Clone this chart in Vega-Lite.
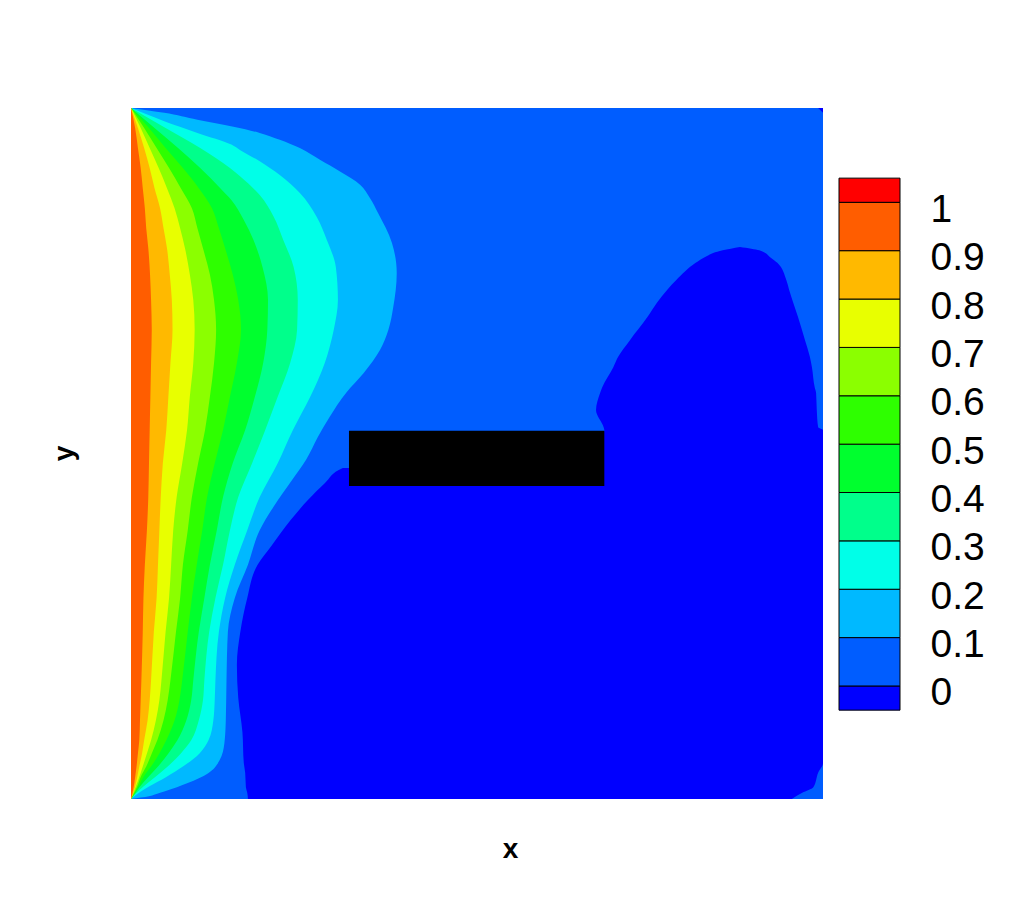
{"$schema":"https://vega.github.io/schema/vega-lite/v6.json","background":"white","padding":{"left":50,"top":108,"right":0,"bottom":0},"autosize":{"type":"pad"},"config":{"view":{"stroke":null},"font":"Liberation Sans"},"spacing":15,
"datasets":{
"field":[{"band":"0","x0":0,"x1":1,"y0":0,"y1":1}],
"obstacle":[{"x0":0.315,"x1":0.684,"y0":0.453,"y1":0.533}],
"bar":[{"band":"-0.05","lo":-0.05,"hi":0},{"band":"0","lo":0,"hi":0.1},{"band":"0.1","lo":0.1,"hi":0.2},{"band":"0.2","lo":0.2,"hi":0.3},{"band":"0.3","lo":0.3,"hi":0.4},{"band":"0.4","lo":0.4,"hi":0.5},{"band":"0.5","lo":0.5,"hi":0.6},{"band":"0.6","lo":0.6,"hi":0.7},{"band":"0.7","lo":0.7,"hi":0.8},{"band":"0.8","lo":0.8,"hi":0.9},{"band":"0.9","lo":0.9,"hi":1},{"band":"1","lo":1,"hi":1.05}],
"below":[{"r":"a","y":0,"x":0.169,"x2":0.955},{"r":"a","y":0.009,"x":0.168,"x2":0.97},{"r":"a","y":0.017,"x":0.166,"x2":0.986},{"r":"a","y":0.038,"x":0.165,"x2":0.993},{"r":"a","y":0.052,"x":0.163,"x2":1},{"r":"a","y":0.097,"x":0.161,"x2":1},{"r":"a","y":0.146,"x":0.155,"x2":1},{"r":"a","y":0.194,"x":0.153,"x2":1},{"r":"a","y":0.242,"x":0.158,"x2":1},{"r":"a","y":0.291,"x":0.168,"x2":1},{"r":"a","y":0.339,"x":0.183,"x2":1},{"r":"a","y":0.365,"x":0.202,"x2":1},{"r":"a","y":0.404,"x":0.231,"x2":1},{"r":"a","y":0.433,"x":0.256,"x2":1},{"r":"a","y":0.457,"x":0.28,"x2":1},{"r":"a","y":0.479,"x":0.306,"x2":1},{"r":"a","y":0.481,"x":0.461,"x2":1},{"r":"a","y":0.533,"x":0.684,"x2":1},{"r":"a","y":0.534,"x":0.684,"x2":1},{"r":"a","y":0.538,"x":0.683,"x2":0.993},{"r":"a","y":0.563,"x":0.672,"x2":0.991},{"r":"a","y":0.588,"x":0.678,"x2":0.99},{"r":"a","y":0.596,"x":0.681,"x2":0.988},{"r":"a","y":0.625,"x":0.697,"x2":0.984},{"r":"a","y":0.64,"x":0.704,"x2":0.981},{"r":"a","y":0.664,"x":0.721,"x2":0.974},{"r":"a","y":0.697,"x":0.746,"x2":0.964},{"r":"a","y":0.718,"x":0.76,"x2":0.957},{"r":"a","y":0.737,"x":0.775,"x2":0.951},{"r":"a","y":0.751,"x":0.788,"x2":0.947},{"r":"a","y":0.776,"x":0.816,"x2":0.934},{"r":"a","y":0.783,"x":0.827,"x2":0.925},{"r":"a","y":0.794,"x":0.855,"x2":0.908},{"r":"a","y":0.799,"x":0.88,"x2":0.88},{"r":"b","y":0.993,"x":1,"x2":1},{"r":"b","y":1,"x":0.993,"x2":1}],
"contours":[
{"band":"0.1","y":0,"x":0},{"band":"0.1","y":0.002,"x":0.014},{"band":"0.1","y":0.011,"x":0.048},{"band":"0.1","y":0.023,"x":0.082},{"band":"0.1","y":0.037,"x":0.111},{"band":"0.1","y":0.056,"x":0.128},{"band":"0.1","y":0.081,"x":0.135},{"band":"0.1","y":0.114,"x":0.137},{"band":"0.1","y":0.172,"x":0.138},{"band":"0.1","y":0.242,"x":0.14},{"band":"0.1","y":0.291,"x":0.15},{"band":"0.1","y":0.339,"x":0.169},{"band":"0.1","y":0.389,"x":0.186},{"band":"0.1","y":0.423,"x":0.206},{"band":"0.1","y":0.462,"x":0.233},{"band":"0.1","y":0.491,"x":0.253},{"band":"0.1","y":0.524,"x":0.27},{"band":"0.1","y":0.553,"x":0.287},{"band":"0.1","y":0.588,"x":0.311},{"band":"0.1","y":0.616,"x":0.336},{"band":"0.1","y":0.65,"x":0.36},{"band":"0.1","y":0.679,"x":0.372},{"band":"0.1","y":0.712,"x":0.379},{"band":"0.1","y":0.761,"x":0.384},{"band":"0.1","y":0.805,"x":0.377},{"band":"0.1","y":0.848,"x":0.357},{"band":"0.1","y":0.87,"x":0.345},{"band":"0.1","y":0.889,"x":0.331},{"band":"0.1","y":0.908,"x":0.302},{"band":"0.1","y":0.925,"x":0.273},{"band":"0.1","y":0.942,"x":0.244},{"band":"0.1","y":0.954,"x":0.215},{"band":"0.1","y":0.964,"x":0.186},{"band":"0.1","y":0.973,"x":0.148},{"band":"0.1","y":0.983,"x":0.096},{"band":"0.1","y":0.993,"x":0.048},{"band":"0.1","y":1,"x":0},
{"band":"0.2","y":0,"x":0},{"band":"0.2","y":0.008,"x":0.01},{"band":"0.2","y":0.018,"x":0.026},{"band":"0.2","y":0.032,"x":0.051},{"band":"0.2","y":0.047,"x":0.075},{"band":"0.2","y":0.066,"x":0.099},{"band":"0.2","y":0.085,"x":0.112},{"band":"0.2","y":0.114,"x":0.119},{"band":"0.2","y":0.143,"x":0.121},{"band":"0.2","y":0.172,"x":0.122},{"band":"0.2","y":0.242,"x":0.127},{"band":"0.2","y":0.291,"x":0.136},{"band":"0.2","y":0.339,"x":0.15},{"band":"0.2","y":0.389,"x":0.168},{"band":"0.2","y":0.437,"x":0.186},{"band":"0.2","y":0.486,"x":0.212},{"band":"0.2","y":0.534,"x":0.234},{"band":"0.2","y":0.582,"x":0.259},{"band":"0.2","y":0.631,"x":0.28},{"band":"0.2","y":0.679,"x":0.293},{"band":"0.2","y":0.722,"x":0.299},{"band":"0.2","y":0.77,"x":0.296},{"band":"0.2","y":0.809,"x":0.283},{"band":"0.2","y":0.843,"x":0.268},{"band":"0.2","y":0.877,"x":0.244},{"band":"0.2","y":0.903,"x":0.215},{"band":"0.2","y":0.923,"x":0.186},{"band":"0.2","y":0.939,"x":0.158},{"band":"0.2","y":0.947,"x":0.145},{"band":"0.2","y":0.964,"x":0.096},{"band":"0.2","y":0.981,"x":0.048},{"band":"0.2","y":1,"x":0},
{"band":"0.3","y":0,"x":0},{"band":"0.3","y":0.008,"x":0.007},{"band":"0.3","y":0.018,"x":0.018},{"band":"0.3","y":0.032,"x":0.035},{"band":"0.3","y":0.047,"x":0.053},{"band":"0.3","y":0.066,"x":0.072},{"band":"0.3","y":0.085,"x":0.087},{"band":"0.3","y":0.114,"x":0.098},{"band":"0.3","y":0.143,"x":0.104},{"band":"0.3","y":0.172,"x":0.106},{"band":"0.3","y":0.242,"x":0.113},{"band":"0.3","y":0.291,"x":0.122},{"band":"0.3","y":0.339,"x":0.133},{"band":"0.3","y":0.389,"x":0.143},{"band":"0.3","y":0.437,"x":0.155},{"band":"0.3","y":0.486,"x":0.175},{"band":"0.3","y":0.534,"x":0.194},{"band":"0.3","y":0.582,"x":0.212},{"band":"0.3","y":0.631,"x":0.23},{"band":"0.3","y":0.679,"x":0.24},{"band":"0.3","y":0.722,"x":0.241},{"band":"0.3","y":0.77,"x":0.235},{"band":"0.3","y":0.809,"x":0.22},{"band":"0.3","y":0.843,"x":0.206},{"band":"0.3","y":0.874,"x":0.186},{"band":"0.3","y":0.901,"x":0.158},{"band":"0.3","y":0.913,"x":0.143},{"band":"0.3","y":0.942,"x":0.1},{"band":"0.3","y":0.971,"x":0.05},{"band":"0.3","y":1,"x":0},
{"band":"0.4","y":0,"x":0},{"band":"0.4","y":0.008,"x":0.006},{"band":"0.4","y":0.018,"x":0.013},{"band":"0.4","y":0.032,"x":0.025},{"band":"0.4","y":0.047,"x":0.039},{"band":"0.4","y":0.066,"x":0.054},{"band":"0.4","y":0.085,"x":0.067},{"band":"0.4","y":0.114,"x":0.08},{"band":"0.4","y":0.143,"x":0.087},{"band":"0.4","y":0.172,"x":0.09},{"band":"0.4","y":0.242,"x":0.098},{"band":"0.4","y":0.291,"x":0.106},{"band":"0.4","y":0.339,"x":0.114},{"band":"0.4","y":0.389,"x":0.124},{"band":"0.4","y":0.437,"x":0.133},{"band":"0.4","y":0.486,"x":0.147},{"band":"0.4","y":0.534,"x":0.165},{"band":"0.4","y":0.582,"x":0.179},{"band":"0.4","y":0.631,"x":0.191},{"band":"0.4","y":0.679,"x":0.197},{"band":"0.4","y":0.722,"x":0.198},{"band":"0.4","y":0.77,"x":0.19},{"band":"0.4","y":0.809,"x":0.177},{"band":"0.4","y":0.838,"x":0.163},{"band":"0.4","y":0.867,"x":0.145},{"band":"0.4","y":0.884,"x":0.129},{"band":"0.4","y":0.913,"x":0.1},{"band":"0.4","y":0.942,"x":0.068},{"band":"0.4","y":0.971,"x":0.034},{"band":"0.4","y":1,"x":0},
{"band":"0.5","y":0,"x":0},{"band":"0.5","y":0.008,"x":0.005},{"band":"0.5","y":0.018,"x":0.011},{"band":"0.5","y":0.032,"x":0.018},{"band":"0.5","y":0.047,"x":0.029},{"band":"0.5","y":0.066,"x":0.041},{"band":"0.5","y":0.085,"x":0.051},{"band":"0.5","y":0.114,"x":0.063},{"band":"0.5","y":0.143,"x":0.07},{"band":"0.5","y":0.172,"x":0.074},{"band":"0.5","y":0.242,"x":0.082},{"band":"0.5","y":0.291,"x":0.088},{"band":"0.5","y":0.339,"x":0.095},{"band":"0.5","y":0.389,"x":0.103},{"band":"0.5","y":0.437,"x":0.11},{"band":"0.5","y":0.486,"x":0.121},{"band":"0.5","y":0.534,"x":0.133},{"band":"0.5","y":0.582,"x":0.143},{"band":"0.5","y":0.631,"x":0.153},{"band":"0.5","y":0.679,"x":0.159},{"band":"0.5","y":0.722,"x":0.155},{"band":"0.5","y":0.759,"x":0.147},{"band":"0.5","y":0.797,"x":0.136},{"band":"0.5","y":0.826,"x":0.127},{"band":"0.5","y":0.855,"x":0.117},{"band":"0.5","y":0.884,"x":0.098},{"band":"0.5","y":0.913,"x":0.075},{"band":"0.5","y":0.942,"x":0.05},{"band":"0.5","y":0.971,"x":0.026},{"band":"0.5","y":1,"x":0},
{"band":"0.6","y":0,"x":0},{"band":"0.6","y":0.008,"x":0.004},{"band":"0.6","y":0.018,"x":0.009},{"band":"0.6","y":0.032,"x":0.014},{"band":"0.6","y":0.047,"x":0.022},{"band":"0.6","y":0.066,"x":0.03},{"band":"0.6","y":0.085,"x":0.038},{"band":"0.6","y":0.114,"x":0.047},{"band":"0.6","y":0.143,"x":0.053},{"band":"0.6","y":0.172,"x":0.057},{"band":"0.6","y":0.242,"x":0.065},{"band":"0.6","y":0.291,"x":0.071},{"band":"0.6","y":0.339,"x":0.075},{"band":"0.6","y":0.389,"x":0.082},{"band":"0.6","y":0.437,"x":0.088},{"band":"0.6","y":0.486,"x":0.097},{"band":"0.6","y":0.534,"x":0.107},{"band":"0.6","y":0.582,"x":0.114},{"band":"0.6","y":0.631,"x":0.12},{"band":"0.6","y":0.679,"x":0.123},{"band":"0.6","y":0.722,"x":0.12},{"band":"0.6","y":0.759,"x":0.114},{"band":"0.6","y":0.797,"x":0.104},{"band":"0.6","y":0.826,"x":0.096},{"band":"0.6","y":0.855,"x":0.088},{"band":"0.6","y":0.884,"x":0.072},{"band":"0.6","y":0.913,"x":0.055},{"band":"0.6","y":0.942,"x":0.037},{"band":"0.6","y":0.971,"x":0.019},{"band":"0.6","y":1,"x":0},
{"band":"0.7","y":0,"x":0},{"band":"0.7","y":0.008,"x":0.003},{"band":"0.7","y":0.018,"x":0.007},{"band":"0.7","y":0.032,"x":0.012},{"band":"0.7","y":0.047,"x":0.017},{"band":"0.7","y":0.066,"x":0.023},{"band":"0.7","y":0.085,"x":0.029},{"band":"0.7","y":0.114,"x":0.036},{"band":"0.7","y":0.143,"x":0.041},{"band":"0.7","y":0.172,"x":0.044},{"band":"0.7","y":0.242,"x":0.05},{"band":"0.7","y":0.291,"x":0.055},{"band":"0.7","y":0.339,"x":0.058},{"band":"0.7","y":0.389,"x":0.061},{"band":"0.7","y":0.437,"x":0.066},{"band":"0.7","y":0.486,"x":0.074},{"band":"0.7","y":0.534,"x":0.081},{"band":"0.7","y":0.582,"x":0.085},{"band":"0.7","y":0.631,"x":0.09},{"band":"0.7","y":0.679,"x":0.092},{"band":"0.7","y":0.722,"x":0.09},{"band":"0.7","y":0.759,"x":0.085},{"band":"0.7","y":0.797,"x":0.078},{"band":"0.7","y":0.826,"x":0.071},{"band":"0.7","y":0.855,"x":0.063},{"band":"0.7","y":0.884,"x":0.052},{"band":"0.7","y":0.913,"x":0.04},{"band":"0.7","y":0.942,"x":0.027},{"band":"0.7","y":0.971,"x":0.014},{"band":"0.7","y":1,"x":0},
{"band":"0.8","y":0,"x":0},{"band":"0.8","y":0.008,"x":0.003},{"band":"0.8","y":0.018,"x":0.006},{"band":"0.8","y":0.032,"x":0.009},{"band":"0.8","y":0.047,"x":0.012},{"band":"0.8","y":0.066,"x":0.016},{"band":"0.8","y":0.085,"x":0.019},{"band":"0.8","y":0.114,"x":0.024},{"band":"0.8","y":0.143,"x":0.027},{"band":"0.8","y":0.172,"x":0.029},{"band":"0.8","y":0.242,"x":0.033},{"band":"0.8","y":0.291,"x":0.037},{"band":"0.8","y":0.339,"x":0.039},{"band":"0.8","y":0.389,"x":0.041},{"band":"0.8","y":0.437,"x":0.043},{"band":"0.8","y":0.486,"x":0.046},{"band":"0.8","y":0.534,"x":0.051},{"band":"0.8","y":0.582,"x":0.054},{"band":"0.8","y":0.631,"x":0.057},{"band":"0.8","y":0.679,"x":0.06},{"band":"0.8","y":0.722,"x":0.059},{"band":"0.8","y":0.759,"x":0.056},{"band":"0.8","y":0.797,"x":0.052},{"band":"0.8","y":0.826,"x":0.047},{"band":"0.8","y":0.855,"x":0.042},{"band":"0.8","y":0.884,"x":0.034},{"band":"0.8","y":0.913,"x":0.027},{"band":"0.8","y":0.942,"x":0.019},{"band":"0.8","y":0.971,"x":0.01},{"band":"0.8","y":1,"x":0},
{"band":"0.9","y":0,"x":0},{"band":"0.9","y":0.008,"x":0.002},{"band":"0.9","y":0.018,"x":0.004},{"band":"0.9","y":0.032,"x":0.006},{"band":"0.9","y":0.047,"x":0.008},{"band":"0.9","y":0.066,"x":0.01},{"band":"0.9","y":0.085,"x":0.012},{"band":"0.9","y":0.114,"x":0.013},{"band":"0.9","y":0.143,"x":0.014},{"band":"0.9","y":0.172,"x":0.015},{"band":"0.9","y":0.242,"x":0.017},{"band":"0.9","y":0.291,"x":0.018},{"band":"0.9","y":0.339,"x":0.02},{"band":"0.9","y":0.389,"x":0.023},{"band":"0.9","y":0.437,"x":0.025},{"band":"0.9","y":0.486,"x":0.026},{"band":"0.9","y":0.534,"x":0.027},{"band":"0.9","y":0.582,"x":0.028},{"band":"0.9","y":0.631,"x":0.029},{"band":"0.9","y":0.679,"x":0.03},{"band":"0.9","y":0.722,"x":0.029},{"band":"0.9","y":0.759,"x":0.0275},{"band":"0.9","y":0.797,"x":0.025},{"band":"0.9","y":0.826,"x":0.022},{"band":"0.9","y":0.855,"x":0.02},{"band":"0.9","y":0.884,"x":0.017},{"band":"0.9","y":0.913,"x":0.014},{"band":"0.9","y":0.942,"x":0.01},{"band":"0.9","y":0.971,"x":0.006},{"band":"0.9","y":1,"x":0}
]},
"hconcat":[
{"width":692,"height":691,
"layer":[
{"data":{"name":"field"},"mark":{"type":"rect","fill":"#005dff"},
 "encoding":{"x":{"field":"x0","type":"quantitative","scale":{"domain":[0,1],"nice":false,"zero":false},"axis":{"title":"x","grid":false,"ticks":false,"labels":false,"domain":false,"titleFontSize":28,"titleFontWeight":"bold","titleFont":"Liberation Sans","titleColor":"black","titleX":379,"titleY":58,"titleBaseline":"alphabetic"}},"x2":{"field":"x1"},
 "y":{"field":"y0","type":"quantitative","scale":{"domain":[0,1],"nice":false,"zero":false},"axis":{"title":"y","grid":false,"ticks":false,"labels":false,"domain":false,"titleFontSize":28,"titleFontWeight":"bold","titleFont":"Liberation Sans","titleColor":"black","titleX":-67,"titleY":345,"titleBaseline":"middle"}},"y2":{"field":"y1"}}},
{"data":{"name":"contours"},"mark":{"type":"area","orient":"horizontal","interpolate":"monotone"},
 "encoding":{"x":{"field":"x","type":"quantitative","stack":null},"y":{"field":"y","type":"quantitative"},
 "color":{"field":"band","type":"nominal","legend":null,"scale":{"domain":["-0.05","0","0.1","0.2","0.3","0.4","0.5","0.6","0.7","0.8","0.9","1"],"range":["#0000ff","#005dff","#00b9ff","#00ffe8","#00ff8b","#00ff2e","#2eff00","#8bff00","#e8ff00","#ffb900","#ff5d00","#ff0000"]}}}},
{"data":{"name":"below"},"mark":{"type":"area","orient":"horizontal","fill":"#0000ff","interpolate":"monotone"},
 "encoding":{"x":{"field":"x","type":"quantitative"},"x2":{"field":"x2"},"y":{"field":"y","type":"quantitative"},"detail":{"field":"r","type":"nominal"}}},
{"data":{"name":"obstacle"},"mark":{"type":"rect","fill":"black"},
 "encoding":{"x":{"field":"x0","type":"quantitative"},"x2":{"field":"x1"},"y":{"field":"y0","type":"quantitative"},"y2":{"field":"y1"}}}
]},
{"width":61,"height":691,
"data":{"name":"bar"},"mark":{"type":"rect","stroke":"black","strokeWidth":1},
"encoding":{"y":{"field":"lo","type":"quantitative","scale":{"domain":[-0.2337,1.195],"nice":false,"zero":false},
 "axis":{"orient":"right","title":null,"values":[0,0.1,0.2,0.3,0.4,0.5,0.6,0.7,0.8,0.9,1],"format":".1~f","grid":false,"ticks":false,"domain":false,"labelFontSize":39,"labelFont":"Liberation Sans","labelColor":"black","labelPadding":30,"labelOffset":7,"labelBaseline":"middle","labelAlign":"left","labelOverlap":false,"labelFlush":false}},
 "y2":{"field":"hi"},
 "color":{"field":"band","type":"nominal","legend":null,"scale":{"domain":["-0.05","0","0.1","0.2","0.3","0.4","0.5","0.6","0.7","0.8","0.9","1"],"range":["#0000ff","#005dff","#00b9ff","#00ffe8","#00ff8b","#00ff2e","#2eff00","#8bff00","#e8ff00","#ffb900","#ff5d00","#ff0000"]}}}}
]}
